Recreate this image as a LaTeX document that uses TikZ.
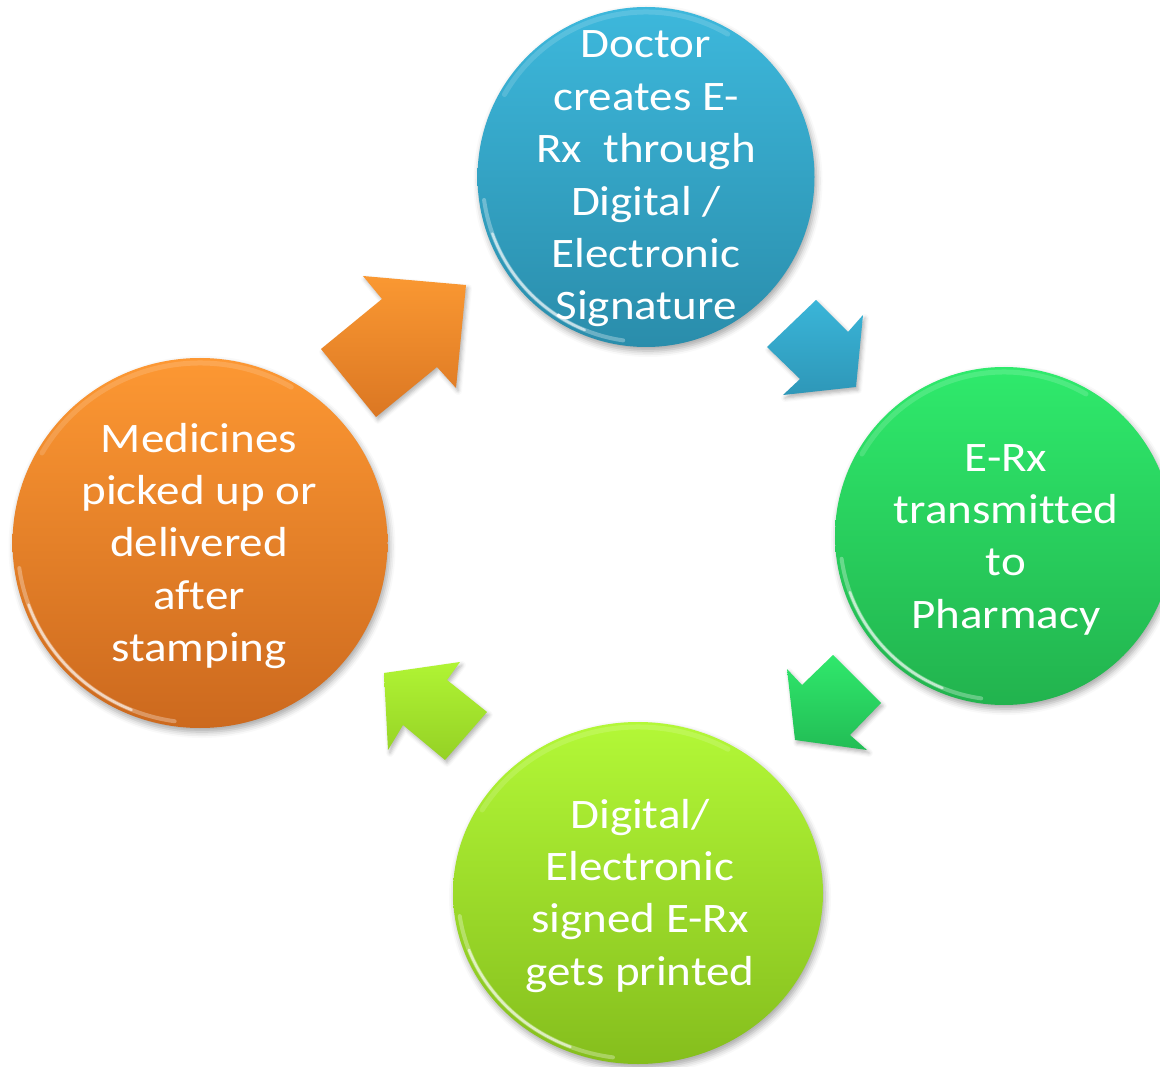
\documentclass[tikz,border=0pt]{standalone}
\usepackage{fontspec}
\setmainfont{Carlito}[FakeStretch=1.12,Ligatures={NoCommon,NoContextual},RawFeature={-liga;-clig;-dlig}]
\usetikzlibrary{shapes.geometric,shadows.blur}
\definecolor{blueT}{HTML}{3DB8DC}\definecolor{blueB}{HTML}{2A8DAB}
\definecolor{greenT}{HTML}{2FEA6C}\definecolor{greenB}{HTML}{22B34E}
\definecolor{limeT}{HTML}{B3F837}\definecolor{limeB}{HTML}{85BE1D}
\definecolor{orT}{HTML}{FD9833}\definecolor{orB}{HTML}{CC691E}
\definecolor{aBlueT}{HTML}{3AB5D8}\definecolor{aBlueB}{HTML}{2E97B8}
\definecolor{aGreenT}{HTML}{30E86C}\definecolor{aGreenB}{HTML}{22BD55}
\definecolor{aLimeT}{HTML}{B0F434}\definecolor{aLimeB}{HTML}{95D125}
\definecolor{aOrT}{HTML}{FA9832}\definecolor{aOrB}{HTML}{DB7723}
\newcommand\cyclines[1]{\vtop{\baselineskip=52.4pt\lineskiplimit=-100pt\halign{\hfil##\hfil\cr#1\crcr}}}
\newcommand\glossrim[3]{%
  \begin{scope}[shift={(#1.center)}]
    \draw[white, opacity=.3, line width=4pt, line cap=round] (188:#2-5 and #3-5) arc[start angle=188,end angle=262,x radius=#2-5,y radius=#3-5];
    \draw[white, opacity=.6, line width=2.5pt, line cap=round] (200:#2-5 and #3-5) arc[start angle=200,end angle=248,x radius=#2-5,y radius=#3-5];
    \draw[white, opacity=.15, line width=5pt, line cap=round] (60:#2-5 and #3-5) arc[start angle=60,end angle=150,x radius=#2-5,y radius=#3-5];
  \end{scope}}
\tikzset{
  ball/.style={ellipse, inner sep=0pt, draw=none, top color=#1T, bottom color=#1B,
    blur shadow={shadow xshift=2pt, shadow yshift=-4pt, shadow blur radius=6pt, shadow opacity=35}},
  blockarrow/.style={draw=none, top color=#1T, bottom color=#1B,
    blur shadow={shadow xshift=2pt, shadow yshift=-3pt, shadow blur radius=4pt, shadow opacity=30}},
  txt/.style={text=white, inner sep=0pt, anchor=base, font=\fontsize{42}{52.4}\selectfont}
}
\begin{document}
\begin{tikzpicture}[x=1pt,y=1pt]
\useasboundingbox (0,0) rectangle (1160,-1067);
% arrows
\draw[blockarrow=aOr] (466,-285) -- (363,-276) -- (382,-299) -- (321,-349) -- (376,-417) -- (437,-367) -- (456,-388) -- cycle;
\draw[blockarrow=aBlue] (816,-300) -- (848,-332) -- (863,-315) -- (856,-387) -- (783,-395) -- (800,-379) -- (767,-347) -- cycle;
\draw[blockarrow=aGreen] (833,-655) -- (881,-703) -- (850,-735) -- (867,-750) -- (795,-740) -- (787,-669) -- (802,-685) -- cycle;
\draw[blockarrow=aLime] (384,-673) -- (460,-662) -- (447,-680) -- (487,-712) -- (445,-760) -- (403,-725) -- (388,-750) -- cycle;
% circles
\node[ball=blue, minimum width=337pt, minimum height=340pt] (c1) at (646,-177) {};
\node[ball=green, minimum width=338pt, minimum height=338pt] (c2) at (1004,-536) {};
\node[ball=lime, minimum width=370pt, minimum height=342pt] (c3) at (638,-893) {};
\node[ball=or, minimum width=375pt, minimum height=370pt] (c4) at (200,-543) {};
\glossrim{c1}{168.5}{170}
\glossrim{c2}{169}{169}
\glossrim{c3}{185}{171}
\glossrim{c4}{187.5}{185}
% texts
\node[txt] (t1) at (646,-58) {\cyclines{Doctor\cr creates E-\cr Rx~~through\cr Digital /\cr Electronic\cr Signature}};
\node[txt] (t2) at (1006,-471) {\cyclines{E-Rx\cr transmit\kern0pt ted\cr to\cr Pharmacy}};
\node[txt] (t3) at (640,-828) {\cyclines{Digital/\cr Electronic\cr signed E-Rx\cr gets printed}};
\node[txt] (t4) at (199,-452) {\cyclines{Medicines\cr picked up or\cr delivered\cr af\kern0pt ter\cr stamping}};
\end{tikzpicture}
\end{document}
